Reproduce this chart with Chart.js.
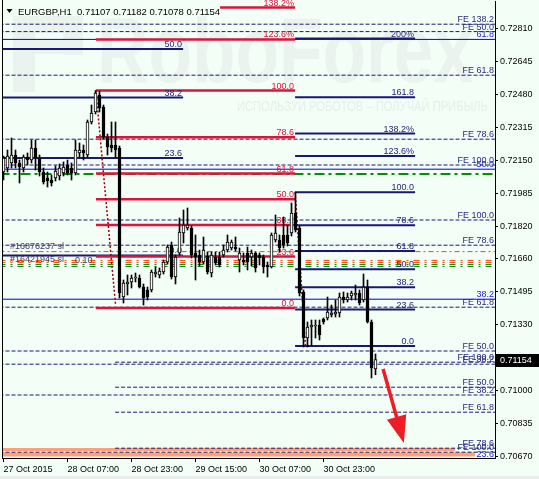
<!DOCTYPE html>
<html>
<head>
<meta charset="utf-8">
<script src="https://cdn.jsdelivr.net/npm/chart.js@4.4.1/dist/chart.umd.min.js"></script>
<style>
html, body { margin: 0; padding: 0; background: #f3fef7; }
canvas { display: block; }
</style>
</head>
<body>
<canvas id="chart" width="539" height="479"></canvas>
<script>
const FONT = "'Liberation Sans', Arial, sans-serif";
const symbol = 'EURGBP,H1';

// time axis (bar index -> label)
const xTickBars = [0, 16, 32, 48, 64, 80];
const xTickLabels = ['27 Oct 2015', '28 Oct 07:00', '28 Oct 23:00', '29 Oct 15:00', '30 Oct 07:00', '30 Oct 23:00'];
const yTicks = [0.70670, 0.70835, 0.71000, 0.71330, 0.71495, 0.71660, 0.71820, 0.71985, 0.72150, 0.72315, 0.72480, 0.72645, 0.72810];

// H1 candles
const openP = [
  0.72092,0.72112,0.72137,0.72177,0.72137,0.72112,0.72167,0.72152,0.72212,0.72162,
  0.72092,0.72062,0.72052,0.72062,0.72072,0.72087,0.72127,0.72112,0.72087,0.72187,
  0.72202,0.72177,0.72342,0.72392,0.72477,0.72417,0.72267,0.72227,0.72227,0.72212,
  0.71467,0.71532,0.71542,0.71562,0.71562,0.71517,0.71502,0.71502,0.71582,0.71577,
  0.71592,0.71642,0.71727,0.71567,0.71687,0.71787,0.71812,0.71812,0.71687,0.71677,
  0.71642,0.71672,0.71587,0.71667,0.71667,0.71677,0.71702,0.71712,0.71717,0.71652,
  0.71652,0.71687,0.71667,0.71687,0.71677,0.71667,0.71627,0.71617,0.71752,0.71752,
  0.71777,0.71777,0.71787,0.71887,0.71812,0.71492,0.71262,0.71317,0.71322,0.71327,
  0.71357,0.71362,0.71377,0.71382,0.71387,0.71467,0.71452,0.71472,0.71477,0.71487,
  0.71452,0.71517,0.71342,0.71107
];
const highP = [
  0.72172,0.72202,0.72262,0.72202,0.72152,0.72177,0.72187,0.72252,0.72252,0.72177,
  0.72112,0.72092,0.72077,0.72122,0.72132,0.72142,0.72152,0.72137,0.72252,0.72237,
  0.72227,0.72352,0.72427,0.72499,0.72497,0.72427,0.72282,0.72342,0.72342,0.72222,
  0.71552,0.71577,0.71577,0.71587,0.71577,0.71532,0.71517,0.71602,0.71617,0.71612,
  0.71652,0.71727,0.71742,0.71677,0.71862,0.71902,0.71912,0.71822,0.71777,0.71702,
  0.71767,0.71692,0.71692,0.71692,0.71692,0.71727,0.71777,0.71752,0.71767,0.71712,
  0.71687,0.71717,0.71702,0.71692,0.71687,0.71677,0.71642,0.71787,0.71877,0.71777,
  0.71867,0.71827,0.71937,0.71992,0.71822,0.71502,0.71342,0.71352,0.71352,0.71352,
  0.71362,0.71467,0.71427,0.71452,0.71487,0.71492,0.71487,0.71497,0.71527,0.71502,
  0.71582,0.71552,0.71352,0.71182
];
const lowP = [
  0.72052,0.72092,0.72112,0.72112,0.72037,0.72092,0.72127,0.72137,0.72102,0.72072,
  0.72032,0.72017,0.72022,0.72047,0.72052,0.72072,0.72077,0.72052,0.72077,0.72167,
  0.72152,0.72167,0.72332,0.72382,0.72392,0.72257,0.72177,0.72192,0.72167,0.71462,
  0.71437,0.71477,0.71512,0.71542,0.71512,0.71427,0.71452,0.71492,0.71567,0.71562,
  0.71582,0.71632,0.71557,0.71532,0.71677,0.71737,0.71802,0.71662,0.71552,0.71622,
  0.71632,0.71582,0.71567,0.71627,0.71617,0.71667,0.71692,0.71702,0.71697,0.71592,
  0.71627,0.71602,0.71622,0.71592,0.71627,0.71587,0.71567,0.71612,0.71742,0.71692,
  0.71712,0.71722,0.71772,0.71792,0.71472,0.71217,0.71217,0.71227,0.71262,0.71252,
  0.71332,0.71352,0.71367,0.71367,0.71367,0.71437,0.71442,0.71452,0.71452,0.71427,
  0.71442,0.71337,0.71062,0.71078
];
const closeP = [
  0.72162,0.72172,0.72177,0.72137,0.72117,0.72167,0.72152,0.72212,0.72162,0.72092,
  0.72042,0.72047,0.72037,0.72097,0.72112,0.72117,0.72087,0.72087,0.72202,0.72202,
  0.72187,0.72342,0.72387,0.72487,0.72412,0.72267,0.72217,0.72212,0.72202,0.71487,
  0.71537,0.71542,0.71562,0.71567,0.71517,0.71462,0.71467,0.71592,0.71592,0.71597,
  0.71642,0.71717,0.71567,0.71667,0.71792,0.71827,0.71827,0.71677,0.71667,0.71642,
  0.71702,0.71592,0.71677,0.71637,0.71627,0.71702,0.71742,0.71742,0.71707,0.71687,
  0.71642,0.71642,0.71687,0.71612,0.71662,0.71617,0.71617,0.71777,0.71787,0.71712,
  0.71727,0.71737,0.71887,0.71802,0.71487,0.71262,0.71317,0.71327,0.71327,0.71277,
  0.71342,0.71392,0.71387,0.71392,0.71467,0.71452,0.71467,0.71487,0.71487,0.71437,
  0.71517,0.71342,0.71112,0.71154
];

// fibo retracement (red)
const redLabels = ['138.2%', '123.6%', '100.0', '78.6', '61.8', '50.0', '38.2', '23.6', '0.0'];
const redPrices = [0.72914, 0.72755, 0.72499, 0.72266, 0.72084, 0.71956, 0.71827, 0.71669, 0.71412];
const redSpan = [23.1, 72.9];

// fibo retracement (navy, left)
const navyLabels = ['50.0', '38.2', '23.6', '0.0'];
const navyPrices = [0.72707, 0.72464, 0.72162, 0.71675];
const navySpan = [-1, 44.9];

// fibo retracement (navy, right)
const navy2Labels = ['200%', '161.8', '138.2%', '123.6%', '100.0', '78.6', '61.8', '50.0', '38.2', '23.6', '0.0'];
const navy2Prices = [0.72759, 0.72466, 0.72284, 0.72172, 0.71991, 0.71826, 0.71697, 0.71606, 0.71516, 0.71404, 0.71222];
const navy2Span = [72.9, 102.9];

// thin blue levels, full width
const blueLabels = ['61.8', '50.0', '38.2', '23.6'];
const bluePrices = [0.72755, 0.72106, 0.71456, 0.70655];

// fibo expansion levels (dashed)
const feLabels = ['FE 138.2', 'FE 50.0', 'FE 61.8', 'FE 78.6', 'FE 100.0', 'FE 100.0', 'FE 78.6', 'FE 61.8', 'FE 50.0', 'FE 38.2', 'FE 38.2', 'FE 100.0'];
const fePrices = [0.72831, 0.72794, 0.72576, 0.72256, 0.72127, 0.71852, 0.71726, 0.71416, 0.71197, 0.71131, 0.70977, 0.70691];
const fe2Labels = ['FE 100.0', 'FE 50.0', 'FE 61.8', 'FE 78.6'];
const fe2Prices = [0.71141, 0.71016, 0.70891, 0.70711];
const fe2From = 27.9;

const salmonPrices = [0.70705, 0.70679];
const salmonEnds = [112.9, 117.9];

// order lines
const slPrices = [0.71694, 0.71650, 0.71640];
const entryPrices = [0.71630, 0.71620];
const tpPrice = 0.72082;
const orderTexts = ['#16876237 sl', '#16421945 sl', '0.10'];

const trendRed = [[23.1, 0.72499], [28.0, 0.71430]];
const trendNavy = [[72.9, 0.71991], [75.5, 0.71222]];
const arrowFrom = [94.9, 0.71107];
const arrowTo = [100.1, 0.70737];

Chart.defaults.font.family = FONT;
Chart.defaults.font.size = 9;
Chart.defaults.color = '#000';

function hline(price, from, to, color, width, dash, order) {
  return {
    type: 'line',
    data: [{ x: from, y: price }, { x: to, y: price }],
    borderColor: color, borderWidth: width, borderDash: dash,
    pointRadius: 0, fill: false, tension: 0, order: order
  };
}
function segment(pts, color, width, dash, order) {
  return {
    type: 'line',
    data: pts.map(p => ({ x: p[0], y: p[1] })),
    borderColor: color, borderWidth: width, borderDash: dash,
    pointRadius: 0, fill: false, tension: 0, order: order
  };
}

const bars = openP.map((_, i) => i);
const datasets = [];

salmonPrices.forEach((p, i) => datasets.push(hline(p, -1, salmonEnds[i], '#ffa07a', i === 0 ? 3 : 4, [], 60)));
fePrices.forEach(p => datasets.push(hline(p, -1, 124, '#191970', 1, [4, 2], 55)));
fe2Prices.forEach(p => datasets.push(hline(p, fe2From, 124, '#191970', 1, [4, 2], 55)));
slPrices.forEach((p, i) => datasets.push(hline(p, -1, 124, '#ff4500', 1, i === 0 ? [5, 3, 2, 3] : [6, 5, 2, 5], 50)));
entryPrices.forEach(p => datasets.push(hline(p, -1, 124, '#008000', 1, [6, 5, 2, 5], 50)));
datasets.push(hline(tpPrice, -1, 124, '#009000', 2, [10, 4, 3, 4], 50));
bluePrices.forEach(p => datasets.push(hline(p, -1, 124, '#0000cd', 1, [], 45)));
redPrices.forEach(p => datasets.push(hline(p, redSpan[0], redSpan[1], '#dc143c', 2.5, [], 40)));
navyPrices.forEach(p => datasets.push(hline(p, navySpan[0], navySpan[1], '#191970', 2, [], 40)));
navy2Prices.forEach(p => datasets.push(hline(p, navy2Span[0], navy2Span[1], '#191970', 2, [], 40)));
datasets.push(segment(trendRed, '#990000', 1.5, [2, 2], 35));
datasets.push(segment(trendNavy, '#990000', 1.5, [2, 2], 35));

datasets.push({
  type: 'bar', label: 'wicks',
  data: bars.map(i => ({ x: i, y: [lowP[i], highP[i]] })),
  backgroundColor: '#000', borderWidth: 0, barThickness: 1, grouped: false, order: 20
});
datasets.push({
  type: 'bar', label: 'bodies',
  data: bars.map(i => ({ x: i, y: [Math.min(openP[i], closeP[i]), Math.max(openP[i], closeP[i])] })),
  backgroundColor: bars.map(i => closeP[i] >= openP[i] ? '#ffffff' : '#000000'),
  borderColor: '#000', borderWidth: 1, borderSkipped: false,
  barThickness: 3, minBarLength: 1, grouped: false, order: 10
});

function rightLabels(ctx, chart, labels, prices, endBar, color) {
  const xs = chart.scales.x, ys = chart.scales.y;
  const right = Math.min(xs.getPixelForValue(endBar), chart.chartArea.right) - 1;
  ctx.fillStyle = color;
  ctx.textAlign = 'right';
  ctx.textBaseline = 'alphabetic';
  labels.forEach((t, i) => ctx.fillText(t, right, ys.getPixelForValue(prices[i]) - 2));
}

const backdrop = {
  id: 'backdrop',
  beforeDraw(chart) {
    const ctx = chart.ctx;
    ctx.save();
    ctx.fillStyle = '#f3fef7';
    ctx.fillRect(0, 0, chart.width, chart.height);
    ctx.fillStyle = '#e8ecea';
    ctx.fillRect(0, 476, chart.width, 3);
    ctx.restore();
  },
  beforeDatasetsDraw(chart) {
    // faint watermark
    const ctx = chart.ctx;
    ctx.save();
    ctx.fillStyle = '#eaf3ee';
    ctx.fillRect(13, 15, 22, 77);
    ctx.fillRect(13, 15, 70, 18);
    ctx.fillRect(63, 15, 20, 40);
    ctx.fillRect(35, 40, 30, 14);
    ctx.font = 'bold 92px ' + FONT;
    const w = ctx.measureText('RoboForex').width;
    ctx.save();
    ctx.translate(97, 82);
    ctx.scale(376 / w, 1);
    ctx.fillText('RoboForex', 0, 0);
    ctx.restore();
    ctx.fillStyle = '#e6efea';
    ctx.font = '14px ' + FONT;
    const sub = 'ИСПОЛЬЗУЙ РОБОТОВ – ПОЛУЧАЙ ПРИБЫЛЬ';
    const w2 = ctx.measureText(sub).width;
    ctx.translate(237, 111);
    ctx.scale(251 / w2, 1);
    ctx.fillText(sub, 0, 0);
    ctx.restore();
  },
  beforeDatasetDraw(chart, args) {
    if (chart.data.datasets[args.index].label !== 'wicks') return;
    const ctx = chart.ctx, ys = chart.scales.y;
    ctx.save();
    ctx.font = '9px ' + FONT;
    rightLabels(ctx, chart, feLabels, fePrices, 124, '#2a2a80');
    rightLabels(ctx, chart, fe2Labels, fe2Prices, 124, '#2a2a80');
    rightLabels(ctx, chart, blueLabels, bluePrices, 124, '#2525d0');
    rightLabels(ctx, chart, redLabels, redPrices, redSpan[1], '#dc143c');
    rightLabels(ctx, chart, navyLabels, navyPrices, navySpan[1], '#1e1e78');
    rightLabels(ctx, chart, navy2Labels, navy2Prices, navy2Span[1], '#1e1e78');
    // order labels
    ctx.textAlign = 'left';
    ctx.fillStyle = '#404060';
    ctx.fillText(orderTexts[0], 10, ys.getPixelForValue(slPrices[0]) - 3);
    ctx.fillText(orderTexts[1], 10, ys.getPixelForValue(slPrices[2]));
    ctx.fillText(orderTexts[2], 75, ys.getPixelForValue(slPrices[2]) + 1);
    ctx.restore();
  },
  afterDatasetsDraw(chart) {
    const ctx = chart.ctx, xs = chart.scales.x, ys = chart.scales.y, a = chart.chartArea;
    ctx.save();
    // left frame
    ctx.strokeStyle = '#000';
    ctx.lineWidth = 1;
    ctx.beginPath();
    ctx.moveTo(a.left + 0.5, a.bottom);
    ctx.lineTo(a.left + 0.5, 0);
    ctx.stroke();
    // red arrow
    const x1 = xs.getPixelForValue(arrowFrom[0]), y1 = ys.getPixelForValue(arrowFrom[1]);
    const x2 = xs.getPixelForValue(arrowTo[0]), y2 = ys.getPixelForValue(arrowTo[1]);
    const ang = Math.atan2(y2 - y1, x2 - x1);
    const headLen = 27, half = 10;
    const bx = x2 - headLen * Math.cos(ang), by = y2 - headLen * Math.sin(ang);
    ctx.strokeStyle = '#ee1c24';
    ctx.fillStyle = '#ee1c24';
    ctx.lineWidth = 3.5;
    ctx.beginPath();
    ctx.moveTo(x1, y1);
    ctx.lineTo(bx + 2 * Math.cos(ang), by + 2 * Math.sin(ang));
    ctx.stroke();
    ctx.beginPath();
    ctx.moveTo(x2, y2);
    ctx.lineTo(bx + half * Math.sin(ang), by - half * Math.cos(ang));
    ctx.lineTo(bx - half * Math.sin(ang), by + half * Math.cos(ang));
    ctx.closePath();
    ctx.fill();
    ctx.restore();
  },
  afterDraw(chart) {
    const ctx = chart.ctx, ys = chart.scales.y, a = chart.chartArea;
    const last = closeP.length - 1;
    ctx.save();
    // title
    ctx.fillStyle = '#f3fef7';
    ctx.fillRect(4, 2, 216, 14);
    ctx.fillStyle = '#000';
    ctx.beginPath();
    ctx.moveTo(6.5, 9);
    ctx.lineTo(12.5, 9);
    ctx.lineTo(9.5, 13);
    ctx.closePath();
    ctx.fill();
    ctx.font = '9.5px ' + FONT;
    ctx.textAlign = 'left';
    ctx.textBaseline = 'alphabetic';
    const title = symbol + '  ' + [openP[last], highP[last], lowP[last], closeP[last]].map(v => v.toFixed(5)).join(' ');
    ctx.fillText(title, 18, 14.5);
    // current price box
    const py = ys.getPixelForValue(closeP[last]);
    ctx.fillStyle = '#000';
    ctx.fillRect(a.right + 1, Math.round(py) - 6, chart.width - a.right - 1, 13);
    ctx.fillStyle = '#fff';
    ctx.font = '9px ' + FONT;
    ctx.textBaseline = 'middle';
    ctx.fillText(closeP[last].toFixed(5), a.right + 5, Math.round(py) + 0.5);
    ctx.restore();
  }
};

new Chart(document.getElementById('chart'), {
  type: 'bar',
  data: { datasets },
  options: {
    responsive: false,
    animation: false,
    events: [],
    layout: { padding: { left: 2, top: 1, right: 0, bottom: 0 } },
    plugins: { legend: { display: false }, tooltip: { enabled: false } },
    scales: {
      x: {
        type: 'linear', min: -0.375, max: 122.875, offset: false,
        afterBuildTicks: s => { s.ticks = xTickBars.map(v => ({ value: v })); },
        afterFit: s => { s.height = 21; s.paddingLeft = 0; s.paddingRight = 0; },
        ticks: {
          align: 'start', maxRotation: 0, autoSkip: false, padding: 2, color: '#000',
          callback: v => xTickLabels[xTickBars.indexOf(v)]
        },
        grid: { drawOnChartArea: false, tickLength: 4, color: '#000', offset: false },
        border: { display: true, color: '#000' }
      },
      y: {
        position: 'right', min: 0.70662, max: 0.72947,
        afterBuildTicks: s => { s.ticks = yTicks.map(v => ({ value: v })); },
        afterFit: s => { s.width = 44; s.paddingTop = 0; s.paddingBottom = 0; },
        ticks: { autoSkip: false, padding: 2, color: '#000', callback: v => Number(v).toFixed(5) },
        grid: { drawOnChartArea: false, tickLength: 3, color: '#000' },
        border: { display: true, color: '#000' }
      }
    }
  },
  plugins: [backdrop]
});
</script>
</body>
</html>
